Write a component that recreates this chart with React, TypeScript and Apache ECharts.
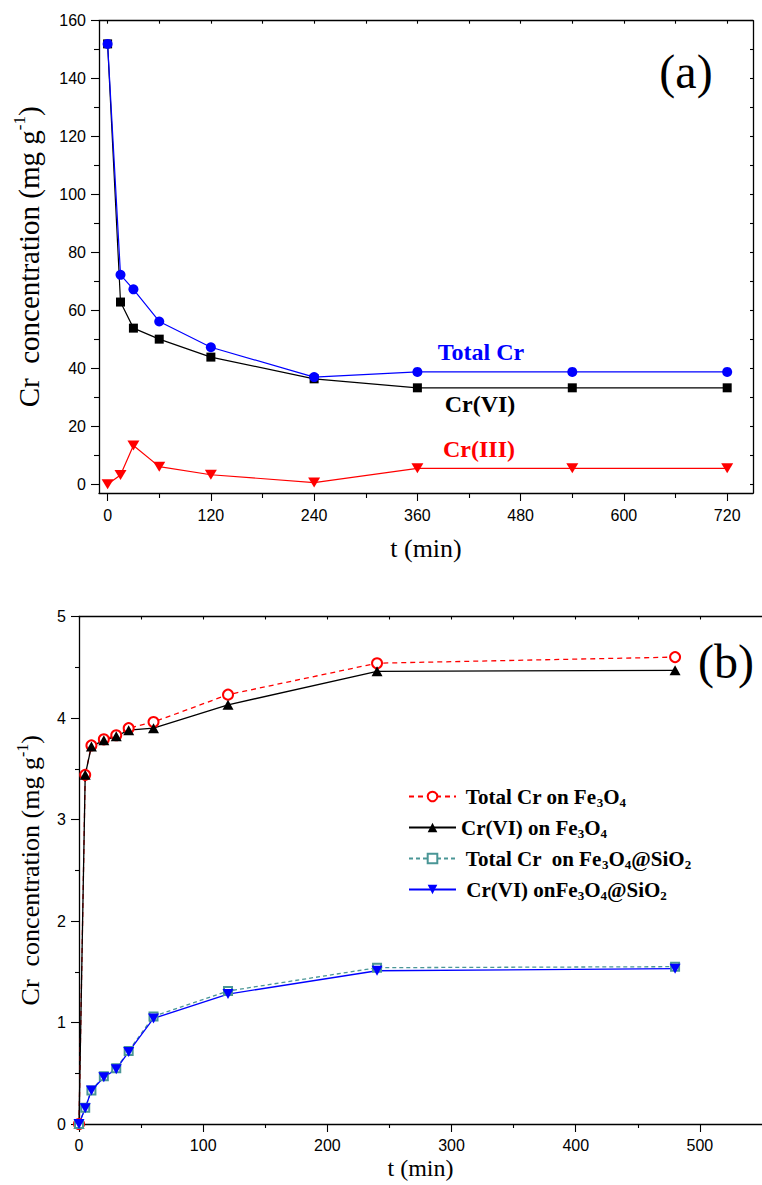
import { useEffect, useRef } from 'react';
import * as echarts from 'echarts';

// (a) Cr species in solution vs time
const kineticsTimes = [0, 15, 30, 60, 120, 240, 360, 540, 720];
const totalCr = [152, 72.3, 67.3, 56.2, 47.3, 37.0, 38.8, 38.8, 38.8];
const crVI = [152, 62.9, 53.9, 50.1, 43.9, 36.4, 33.3, 33.3, 33.3];
const crIII = [0, 3.2, 13.4, 6.1, 3.3, 0.6, 5.5, 5.5, 5.5];

// (b) Cr uptake on the two sorbents vs time
const uptakeTimes = [0, 5, 10, 20, 30, 40, 60, 120, 240, 480];
const totalOnFe3O4 = [0, 3.44, 3.73, 3.79, 3.83, 3.9, 3.96, 4.23, 4.54, 4.6];
const crVIOnFe3O4 = [0, 3.44, 3.72, 3.78, 3.82, 3.88, 3.9, 4.13, 4.46, 4.47];
const totalOnSiO2 = [0, 0.16, 0.33, 0.47, 0.55, 0.72, 1.06, 1.31, 1.54, 1.55];
const crVIOnSiO2 = [0, 0.155, 0.33, 0.46, 0.54, 0.71, 1.04, 1.28, 1.51, 1.53];

// tick positions
const aYMajor = [0, 20, 40, 60, 80, 100, 120, 140, 160];
const aYMinor = [10, 30, 50, 70, 90, 110, 130, 150];
const aYRight = [0, 10, 20, 30, 40, 50, 60, 70, 80, 90, 100, 110, 120, 130, 140, 150, 160];
const aXMajor = [0, 120, 240, 360, 480, 600, 720];
const aXMinor = [60, 180, 300, 420, 540, 660];
const aXTop = [0, 60, 120, 180, 240, 300, 360, 420, 480, 540, 600, 660, 720];
const bYMajor = [0, 1, 2, 3, 4, 5];
const bYMinor = [0.5, 1.5, 2.5, 3.5, 4.5];
const bXMajor = [0, 100, 200, 300, 400, 500];
const bXMinor = [50, 150, 250, 350, 450];
const bXTop = [0, 50, 100, 150, 200, 250, 300, 350, 400, 450, 500];

const legendNames = [
  'Total Cr on Fe3O4',
  'Cr(VI) on Fe3O4',
  'Total Cr  on Fe3O4@SiO2',
  'Cr(VI) onFe3O4@SiO2',
];
const legendRich: Record<string, string> = {
  'Total Cr on Fe3O4': '{t| Total Cr on Fe}{s|3}{t|O}{s|4}',
  'Cr(VI) on Fe3O4': '{t|Cr(VI) on Fe}{s|3}{t|O}{s|4}',
  'Total Cr  on Fe3O4@SiO2': '{t| Total Cr  on Fe}{s|3}{t|O}{s|4}{t|@SiO}{s|2}',
  'Cr(VI) onFe3O4@SiO2': '{t| Cr(VI) onFe}{s|3}{t|O}{s|4}{t|@SiO}{s|2}',
};

const black = '#000';
const sans = "'Liberation Sans', Arial, sans-serif";
const serif = "'Liberation Serif', 'Times New Roman', serif";
const downTriangle = 'path://M0,0L10,0L5,8.66Z';

const pairs = (xs: number[], ys: number[]) => xs.map((x, i) => [x, ys[i]]);

function axis(
  gridIndex: number,
  position: string,
  min: number,
  max: number,
  ticks: number[],
  length: number,
  inside: boolean,
  showLine: boolean,
  extra: any = {}
) {
  return {
    type: 'value',
    gridIndex,
    position,
    min,
    max,
    axisLine: { show: showLine, onZero: false, lineStyle: { color: black, width: 1.3 } },
    axisTick: { show: true, inside, length, customValues: ticks, lineStyle: { color: black, width: 1.1 } },
    axisLabel: { show: false },
    splitLine: { show: false },
    ...extra,
  };
}

const tickLabel = (values: number[], margin: number) => ({
  show: true,
  customValues: values,
  fontFamily: sans,
  fontSize: 16,
  color: black,
  margin,
});

const yName = (size: number) => ({
  name: '{m|Cr  concentration (mg g}{sup|-1}{m|)}',
  nameLocation: 'middle',
  nameRotate: 90,
  nameTextStyle: {
    color: black,
    fontFamily: serif,
    fontSize: size,
    rich: {
      m: { fontFamily: serif, fontSize: size, color: black },
      sup: {
        fontFamily: serif,
        fontSize: Math.round(size * 0.6),
        color: black,
        padding: [0, 0, Math.round(size * 0.62), 0],
      },
    },
  },
});

const xName = (size: number, gap: number) => ({
  name: 't (min)',
  nameLocation: 'middle',
  nameGap: gap,
  nameTextStyle: { color: black, fontFamily: serif, fontSize: size },
});

const speciesLabel = (text: string, x: number, y: number, color: string) => ({
  type: 'text',
  x,
  y,
  style: {
    text,
    fill: color,
    fontFamily: serif,
    fontWeight: 'bold',
    fontSize: 24,
    align: 'center',
    verticalAlign: 'middle',
  },
});

const panelLabel = (text: string, x: number, y: number) => ({
  type: 'text',
  x,
  y,
  style: {
    text,
    fill: black,
    fontFamily: serif,
    fontSize: 48,
    align: 'center',
    verticalAlign: 'middle',
  },
});

export default function App() {
  const ref = useRef<HTMLDivElement>(null);

  useEffect(() => {
    if (!ref.current) return;
    const chart = echarts.init(ref.current, null, { renderer: 'svg' });

    const option: any = {
      animation: false,
      backgroundColor: '#fff',
      grid: [
        { left: 99, top: 20.7, width: 654, height: 472.3 },
        { left: 79, top: 616.5, width: 690, height: 507.5 },
      ],
      xAxis: [
        axis(0, 'bottom', -10, 750, aXMajor, 8, false, true, {
          axisLabel: tickLabel(aXMajor, 14),
          ...xName(26, 42),
        }),
        axis(0, 'bottom', -10, 750, aXMinor, 5, false, false),
        axis(0, 'top', -10, 750, aXTop, 3, true, true),
        axis(1, 'bottom', 0, 550, bXMajor, 8, false, true, {
          axisLabel: tickLabel(bXMajor, 13),
          ...xName(24, 32),
        }),
        axis(1, 'bottom', 0, 550, bXMinor, 4, false, false),
        axis(1, 'top', 0, 550, bXTop, 3, true, true),
      ],
      yAxis: [
        axis(0, 'left', -3, 160, aYMajor, 8, false, true, {
          axisLabel: tickLabel(aYMajor, 13),
          ...yName(29),
          nameGap: 53,
        }),
        axis(0, 'left', -3, 160, aYMinor, 5, false, false),
        axis(0, 'right', -3, 160, aYRight, 3, true, true),
        axis(1, 'left', 0, 5, bYMajor, 8, false, true, {
          axisLabel: tickLabel(bYMajor, 13),
          ...yName(26),
          nameGap: 33,
        }),
        axis(1, 'left', 0, 5, bYMinor, 4, false, false),
      ],
      legend: {
        orient: 'vertical',
        left: 403,
        top: 779,
        padding: 5,
        itemWidth: 47,
        itemHeight: 12,
        itemGap: 6,
        data: legendNames,
        formatter: (name: string) => legendRich[name] ?? name,
        textStyle: {
          color: black,
          fontFamily: serif,
          fontWeight: 'bold',
          fontSize: 21,
          rich: {
            t: { fontFamily: serif, fontWeight: 'bold', fontSize: 21, color: black, lineHeight: 23 },
            s: {
              fontFamily: serif,
              fontWeight: 'bold',
              fontSize: 13,
              color: black,
              lineHeight: 13,
              padding: [12, 0, 0, 0],
            },
          },
        },
      },
      graphic: [
        panelLabel('(a)', 686, 71),
        panelLabel('(b)', 726, 661),
        speciesLabel('Total Cr', 481, 352, '#0000ff'),
        speciesLabel('Cr(VI)', 480, 404, black),
        speciesLabel('Cr(III)', 479, 449, '#ff0000'),
      ],
      series: [
        {
          name: 'Cr(VI)',
          type: 'line',
          xAxisIndex: 0,
          yAxisIndex: 0,
          data: pairs(kineticsTimes, crVI),
          symbol: 'rect',
          symbolSize: 9,
          itemStyle: { color: black },
          lineStyle: { color: black, width: 1.2 },
        },
        {
          name: 'Cr(III)',
          type: 'line',
          xAxisIndex: 0,
          yAxisIndex: 0,
          data: pairs(kineticsTimes, crIII),
          symbol: downTriangle,
          symbolSize: [12, 10],
          itemStyle: { color: '#ff0000' },
          lineStyle: { color: '#ff0000', width: 1.2 },
        },
        {
          name: 'Total Cr',
          type: 'line',
          xAxisIndex: 0,
          yAxisIndex: 0,
          data: pairs(kineticsTimes, totalCr),
          symbol: 'circle',
          symbolSize: 10,
          itemStyle: { color: '#0000ff' },
          lineStyle: { color: '#0000ff', width: 1.2 },
        },
        {
          name: legendNames[0],
          type: 'line',
          xAxisIndex: 3,
          yAxisIndex: 3,
          data: pairs(uptakeTimes, totalOnFe3O4),
          symbol: 'emptyCircle',
          symbolSize: 10,
          itemStyle: { color: '#ff0000', borderWidth: 1.2 },
          lineStyle: { color: '#ff0000', width: 1.3, type: [5, 4] },
        },
        {
          name: legendNames[1],
          type: 'line',
          xAxisIndex: 3,
          yAxisIndex: 3,
          data: pairs(uptakeTimes, crVIOnFe3O4),
          symbol: 'triangle',
          symbolSize: [11, 10],
          itemStyle: { color: black },
          lineStyle: { color: black, width: 1.3 },
        },
        {
          name: legendNames[2],
          type: 'line',
          xAxisIndex: 3,
          yAxisIndex: 3,
          data: pairs(uptakeTimes, totalOnSiO2),
          symbol: 'emptyRect',
          symbolSize: 8,
          itemStyle: { color: '#4a9696', borderWidth: 1.2 },
          lineStyle: { color: '#4a9696', width: 1.3, type: [4, 3] },
        },
        {
          name: legendNames[3],
          type: 'line',
          xAxisIndex: 3,
          yAxisIndex: 3,
          data: pairs(uptakeTimes, crVIOnSiO2),
          symbol: downTriangle,
          symbolSize: [11, 10],
          itemStyle: { color: '#0000ff' },
          lineStyle: { color: '#0000ff', width: 1.3 },
        },
      ],
    };

    chart.setOption(option);
    return () => chart.dispose();
  }, []);

  return (
    <div
      ref={ref}
      style={{ position: 'absolute', left: 0, top: 0, width: 762, height: 1185, background: '#fff' }}
    />
  );
}
